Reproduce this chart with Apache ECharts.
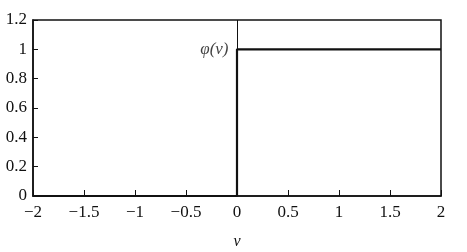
<!DOCTYPE html>
<html><head><meta charset="utf-8">
<script src="https://cdn.jsdelivr.net/npm/echarts@6/dist/echarts.min.js"></script>
<style>html,body{margin:0;padding:0;background:#fff}#c{width:467px;height:252px}</style>
</head><body><div id="c"></div>
<script>
const stepX = [-2, 0, 0, 2];
const stepY = [0, 0, 1, 1];
const xTicks = [-2, -1.5, -1, -0.5, 0, 0.5, 1, 1.5, 2];
const yTicks = [0, 0.2, 0.4, 0.6, 0.8, 1, 1.2];
const curveLabel = 'φ(v)';
const labelAt = [0, 1];
const xName = 'v';

const font = '"Liberation Serif", "DejaVu Serif", serif';
const fmt = v => (v < 0 ? '\u2212' + Math.abs(v) : String(v));
const chart = echarts.init(document.getElementById('c'), null, {renderer: 'canvas'});
chart.setOption({
  animation: false,
  backgroundColor: '#fff',
  grid: {left: 33, right: 26, top: 20, bottom: 56, show: true, borderColor: '#111', borderWidth: 1.5,
    containLabel: false, outerBoundsMode: 'none'},
  xAxis: {
    type: 'value', min: -2, max: 2, interval: 0.5,
    name: xName, nameLocation: 'middle', nameGap: 38,
    nameTextStyle: {fontFamily: font, fontSize: 16, fontStyle: 'italic', color: '#111'},
    axisLine: {onZero: false, lineStyle: {color: '#111', width: 1.5}},
    axisTick: {inside: true, length: 6, lineStyle: {color: '#111'}},
    axisLabel: {fontFamily: font, fontSize: 17, color: '#111', margin: 8, formatter: fmt},
    splitLine: {show: false}
  },
  yAxis: {
    type: 'value', min: 0, max: 1.2, interval: 0.2,
    axisLine: {onZero: false, lineStyle: {color: '#111', width: 1.5}},
    axisTick: {inside: true, length: 5, lineStyle: {color: '#111'}},
    axisLabel: {fontFamily: font, fontSize: 17, color: '#111', margin: 6,
      formatter: v => String(Math.round(v * 10) / 10)},
    splitLine: {show: false}
  },
  series: [{
    type: 'line',
    data: stepX.map((x, i) => [x, stepY[i]]),
    symbol: 'none',
    lineStyle: {color: '#111', width: 2.2},
    markLine: {
      silent: true, symbol: 'none', label: {show: false},
      lineStyle: {color: '#111', width: 1, type: 'solid'},
      data: [{xAxis: 0}]
    }
  }, {
    type: 'scatter',
    data: [labelAt],
    symbol: 'circle', symbolSize: 1,
    itemStyle: {color: 'rgba(0,0,0,0)'},
    label: {show: true, formatter: curveLabel, position: 'left', distance: 8,
      fontFamily: font, fontSize: 17, fontStyle: 'italic', color: '#111'}
  }]
});
</script></body></html>
